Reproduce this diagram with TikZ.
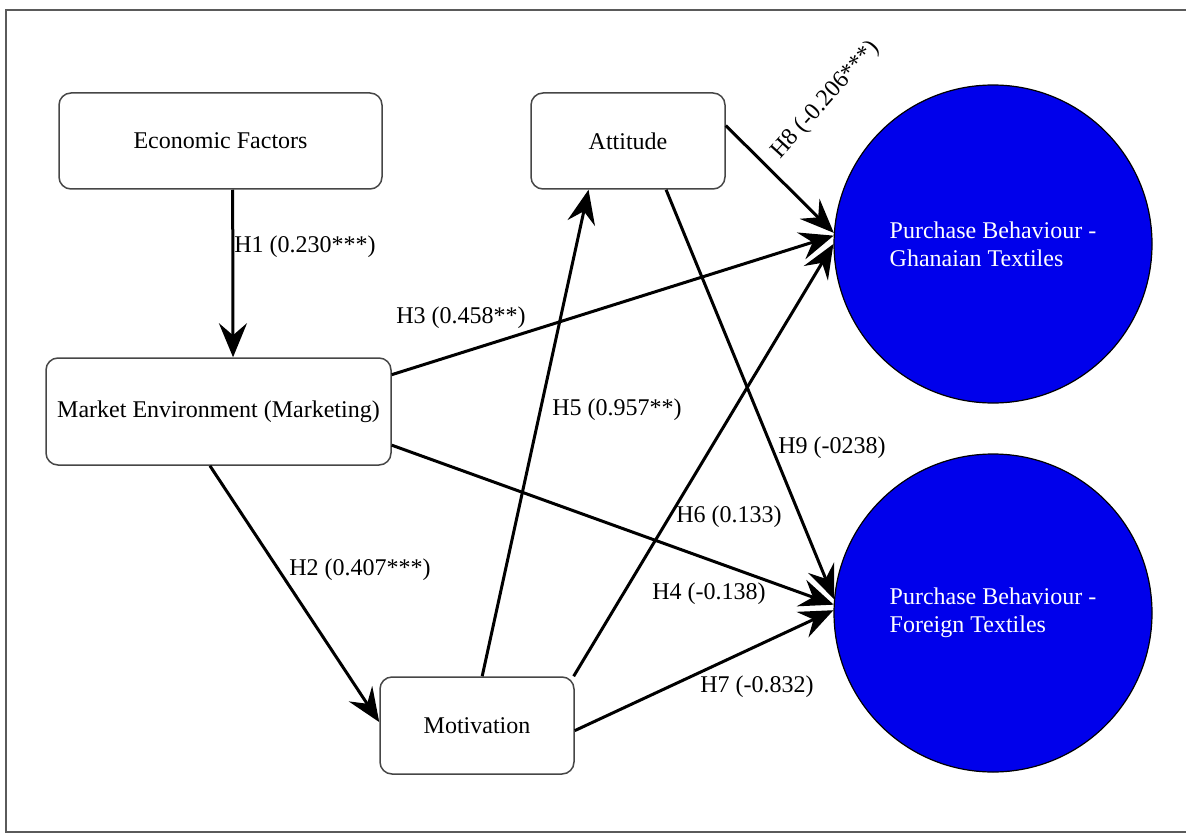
\documentclass[tikz,border=0pt]{standalone}
\usepackage{fontspec}
\setmainfont{Liberation Serif}
\usetikzlibrary{arrows.meta,calc}
\definecolor{pbblue}{RGB}{0,0,235}
\definecolor{boxgray}{RGB}{70,70,70}
\definecolor{framegray}{RGB}{90,90,90}
\begin{document}
\begin{tikzpicture}[x=0.5pt,y=-0.5pt,
  every node/.style={font=\fontsize{12}{14}\selectfont},
  factor/.style={draw=boxgray, line width=0.75pt, rounded corners=6pt, fill=white, inner sep=0pt, align=center},
  outcome/.style={circle, draw=black, line width=0.6pt, fill=pbblue, text=white, minimum size=159pt, inner sep=0pt, align=left},
  hpath/.style={line width=1.5pt, -{Stealth[length=17pt,width=14pt,inset=6pt]}},
  coef/.style={inner sep=1pt}]
\useasboundingbox (0,0) rectangle (1186,834);
% outer frame
\draw[framegray, line width=0.75pt] (6,10) rectangle (1200,832);

% constructs
\node[factor, minimum width=161.5pt, minimum height=48pt] (eco) at (220.5,141) {Economic Factors};
\node[factor, minimum width=97pt, minimum height=48pt] (att) at (628,141) {Attitude};
\node[factor, minimum width=172.5pt, minimum height=53.5pt] (mkt) at (218.5,411.5) {Market Environment (Marketing)};
\node[factor, minimum width=97pt, minimum height=48.5pt] (mot) at (477,725.5) {Motivation};
\node[outcome] (gh) at (993,244) {Purchase Behaviour -\\Ghanaian Textiles};
\node[outcome] (fo) at (993,613) {Purchase Behaviour -\\Foreign Textiles};

% hypothesised paths
\draw[hpath] (eco.-76.5) -- (mkt.75.8);
\draw[hpath] (mkt.-99) -- (mot.178);
\draw[hpath] (mkt.12.6) -- (gh.177.5);
\draw[hpath] (mkt.-11.9) -- (fo.177);
\draw[hpath] (mot.84.3) -- (att.-129.2);
\draw[hpath] (mot.27.6) -- (gh.180);
\draw[hpath] (mot.-3.8) -- (fo.179);
\draw[hpath] (att.9.4) -- (gh.176);
\draw[hpath] (att.-52.4) -- (fo.175);

% path coefficients
\node[coef] (h1) at (305,247) {H1 (0.230***)};
\node[coef] (h2) at (360,570) {H2 (0.407***)};
\node[coef] (h3) at (461,318) {H3 (0.458**)};
\node[coef] (h4) at (709,594) {H4 (-0.138)};
\node[coef] (h5) at (617,410) {H5 (0.957**)};
\node[coef] (h6) at (729,517) {H6 (0.133)};
\node[coef] (h7) at (757,687) {H7 (-0.832)};
\node[coef, rotate=48] (h8) at (826,100) {H8 (-0.206***)};
\node[coef] (h9) at (832,448) {H9 (-0238)};
\end{tikzpicture}
\end{document}
